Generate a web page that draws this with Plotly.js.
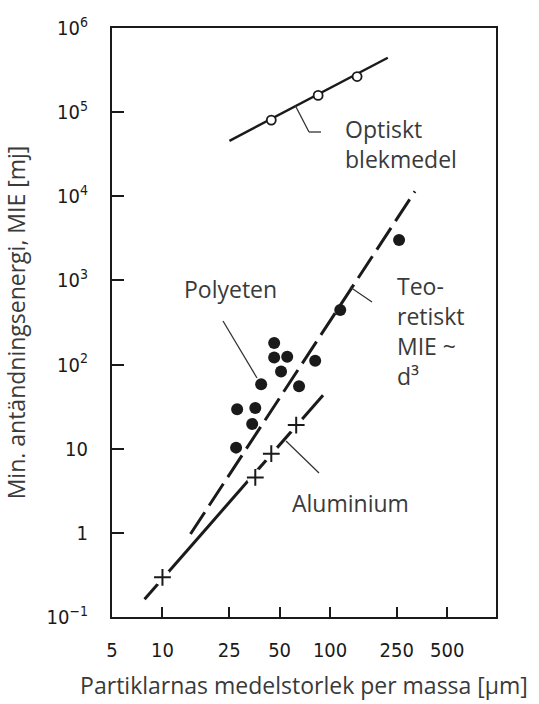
<!DOCTYPE html>
<html>
<head>
<meta charset="utf-8">
<script src="https://cdn.plot.ly/plotly-3.0.1.min.js"></script>
<style>html,body{margin:0;padding:0;background:#fff;}#chart{width:539px;height:704px;}</style>
</head>
<body>
<div id="chart"></div>
<script>
// Optiskt blekmedel (open circles) and its fitted line
const optX = [44.6, 84.9, 145];
const optY = [80500, 158000, 265000];
const optLineX = [25.1, 221];
const optLineY = [45600, 443000];
// Teoretiskt MIE ~ d^3 (dashed line)
const teoX = [14.7, 321];
const teoY = [0.97, 11460];
// Aluminium (+ markers) and its line
const alX = [10, 35.8, 44.6, 62.8];
const alY = [0.296, 4.56, 8.73, 19.1];
const alLineX = [7.82, 90.8];
const alLineY = [0.163, 43.2];
// Polyeten (filled circles)
const polyX = [46.4, 46.4, 55.5, 81.5, 51.0, 38.8, 65.3, 27.9, 35.8, 34.3, 27.5, 115, 258];
const polyY = [181, 121, 124, 111, 82.8, 58.2, 55.1, 29.5, 30.4, 19.7, 10.3, 444, 3030];
// Axis ticks
const xTickVals = [5, 10, 25, 50, 100, 250, 500];
const xTickText = ['5', '10', '25', '50', '100', '250', '500'];
const yTickVals = [0.1, 1, 10, 100, 1000, 10000, 100000, 1000000];
const yTickText = ['10<sup>−1</sup>', '1', '10', '10<sup>2</sup>', '10<sup>3</sup>', '10<sup>4</sup>', '10<sup>5</sup>', '10<sup>6</sup>'];

const ink = '#1a1a1a';
const txt = '#3a3a3a';
const textFont = {family: 'Open Sans, sans-serif', size: 23, color: txt};
const tickFont = {family: 'Liberation Sans Narrow, DejaVu Sans Condensed, sans-serif', size: 20, color: ink};

const traces = [
  {x: optLineX, y: optLineY, mode: 'lines', line: {color: ink, width: 2.5}, hoverinfo: 'skip'},
  {x: optX, y: optY, mode: 'markers', marker: {symbol: 'circle', size: 9, color: '#fff', line: {color: ink, width: 1.8}}},
  {x: teoX, y: teoY, mode: 'lines', line: {color: ink, width: 3, dash: '26px,8px'}},
  {x: alLineX, y: alLineY, mode: 'lines', line: {color: ink, width: 3}},
  {x: alX, y: alY, mode: 'markers', marker: {symbol: 'circle', size: 17, color: '#fff', line: {width: 0}}, hoverinfo: 'skip'},
  {x: alX, y: alY, mode: 'markers', marker: {symbol: 'cross-thin', size: 12, color: ink, line: {color: ink, width: 2}}},
  {x: polyX, y: polyY, mode: 'markers', marker: {symbol: 'circle', size: 12, color: ink}}
];

function P(px, py) { return [(px - 112) / 384, (617 - py) / 589]; }
function seg(a, b) {
  const p = P(a[0], a[1]), q = P(b[0], b[1]);
  return {type: 'line', xref: 'paper', yref: 'paper', x0: p[0], y0: p[1], x1: q[0], y1: q[1], line: {color: '#333', width: 1.3}};
}
function label(text, px, py) {
  const p = P(px, py);
  return {text: text, xref: 'paper', yref: 'paper', x: p[0], y: p[1], xanchor: 'left', yanchor: 'middle', align: 'left', showarrow: false, font: textFont};
}

const layout = {
  width: 539, height: 704,
  margin: {l: 112, r: 43, t: 28, b: 87},
  paper_bgcolor: '#fff', plot_bgcolor: '#fff',
  showlegend: false,
  xaxis: {
    type: 'log', range: [Math.log10(5), 2.99],
    tickvals: xTickVals, ticktext: xTickText,
    ticks: 'inside', ticklen: 10, tickwidth: 2, tickcolor: ink,
    showline: true, linewidth: 2, linecolor: ink, mirror: true,
    showgrid: false, zeroline: false,
    tickfont: tickFont, ticklabelstandoff: 14,
    title: {text: 'Partiklarnas medelstorlek per massa [µm]', font: textFont, standoff: 17}
  },
  yaxis: {
    type: 'log', range: [-1, 6],
    tickvals: yTickVals, ticktext: yTickText,
    ticks: 'inside', ticklen: 12, tickwidth: 2, tickcolor: ink,
    showline: true, linewidth: 2, linecolor: ink, mirror: true,
    showgrid: false, zeroline: false,
    tickfont: tickFont, ticklabelstandoff: 18,
    title: {text: 'Min. antändningsenergi, MIE [mj]', font: textFont, standoff: 28}
  },
  annotations: [
    label('Polyeten', 182, 289),
    label('Teo-<br>retiskt<br>MIE ~<br>d³', 395, 331),
    label('Optiskt<br>blekmedel', 343, 144),
    label('Aluminium', 290, 503)
  ],
  shapes: [
    seg([223, 321], [257, 378]),
    seg([350, 287], [372, 302]),
    seg([286, 441], [319, 473]),
    seg([295, 105], [309, 132]),
    seg([309, 132], [321, 132])
  ]
};

Plotly.newPlot('chart', traces, layout, {displayModeBar: false, staticPlot: true});
</script>
</body>
</html>
